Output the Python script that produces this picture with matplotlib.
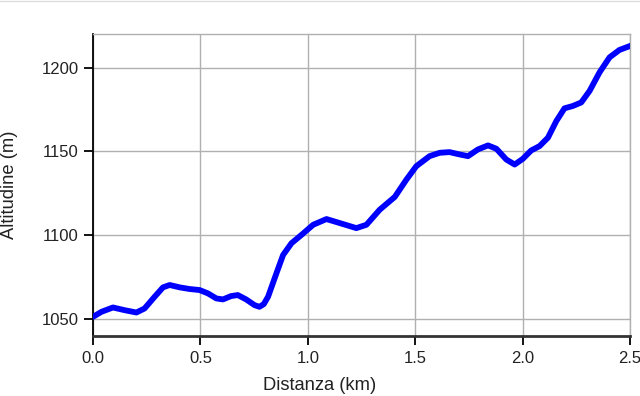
import matplotlib
matplotlib.use("Agg")
import matplotlib.pyplot as plt
from matplotlib.lines import Line2D

# elevation profile (km, m)
distanza_km = [
    0.000, 0.039, 0.093, 0.147, 0.202, 0.240, 0.287, 0.326, 0.357, 0.403,
    0.450, 0.496, 0.535, 0.574, 0.605, 0.643, 0.674, 0.713, 0.752, 0.775,
    0.795, 0.815, 0.854, 0.885, 0.924, 0.971, 1.025, 1.087, 1.149, 1.226,
    1.273, 1.335, 1.405, 1.459, 1.505, 1.567, 1.614, 1.660, 1.707, 1.746,
    1.792, 1.839, 1.878, 1.924, 1.963, 2.001, 2.040, 2.079, 2.118, 2.157,
    2.195, 2.234, 2.273, 2.312, 2.358, 2.405, 2.451, 2.505,
]
altitudine_m = [
    1051.4, 1054.4, 1057.0, 1055.4, 1054.0, 1056.4, 1063.4, 1069.0, 1070.4, 1069.0,
    1068.0, 1067.4, 1065.4, 1062.4, 1061.8, 1063.8, 1064.4, 1061.8, 1058.4, 1057.4,
    1059.0, 1063.4, 1077.4, 1088.3, 1095.3, 1100.3, 1106.3, 1109.7, 1107.3, 1104.3,
    1106.3, 1115.3, 1122.9, 1133.2, 1141.2, 1147.2, 1149.2, 1149.6, 1148.2, 1147.2,
    1151.2, 1153.6, 1151.6, 1145.2, 1142.2, 1145.6, 1150.6, 1153.2, 1158.2, 1168.1,
    1175.7, 1177.1, 1179.2, 1186.1, 1197.1, 1206.1, 1210.5, 1213.1,
]

x_ticks = [0.0, 0.5, 1.0, 1.5, 2.0, 2.5]
y_ticks = [1050, 1100, 1150, 1200]

plt.rcParams["font.family"] = ["Liberation Sans", "DejaVu Sans"]

fig = plt.figure(figsize=(6.4, 3.96), dpi=100)
ax = fig.add_axes([93 / 640, 60 / 396, 537 / 640, 302 / 396])

ax.plot(distanza_km, altitudine_m, color="#0000ff", linewidth=4.2,
        solid_capstyle="round", solid_joinstyle="round", zorder=3)

ax.set_xlim(0, 2.5)
ax.set_ylim(1040, 1220)
ax.set_xticks(x_ticks)
ax.set_xticklabels([f"{v:.1f}" for v in x_ticks])
ax.set_yticks(y_ticks)

ax.grid(True, color="#b0b0b0", linewidth=1)
ax.set_axisbelow(True)

for side in ("top", "right"):
    ax.spines[side].set_color("#b0b0b0")
    ax.spines[side].set_linewidth(1)
ax.spines["left"].set_color("black")
ax.spines["left"].set_linewidth(1.3)
ax.spines["bottom"].set_color("#333333")
ax.spines["bottom"].set_linewidth(2)

ax.tick_params(axis="both", length=6.5, width=1.3, color="black",
               labelsize=12, labelcolor="#222222", pad=4)

fig.text(0.5, 11 / 396, "Distanza (km)", ha="center", va="center",
         fontsize=13.2, color="#222222")
fig.text(10 / 640, 1 - 185 / 396, "Altitudine (m)", ha="center", va="center",
         rotation=90, fontsize=13.2, color="#222222")

# thin border line along the very top of the picture
fig.add_artist(Line2D([0, 1], [0.998, 0.998], transform=fig.transFigure,
                      color="#dddddd", linewidth=1))

fig.savefig("out.png", dpi=100)
